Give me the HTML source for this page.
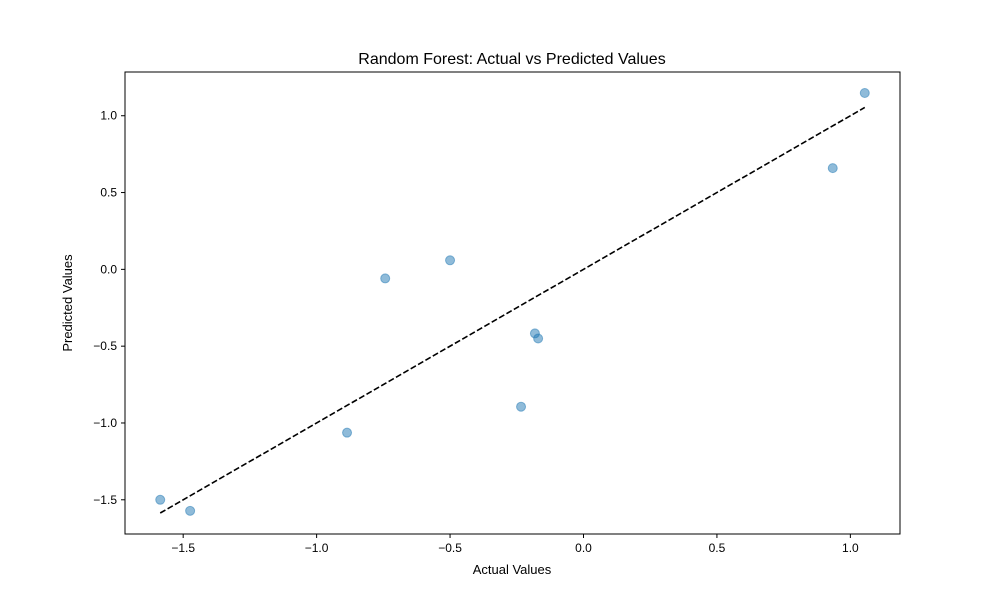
<!DOCTYPE html>
<html><head><meta charset="utf-8"><style>body{margin:0;background:#fff}svg{display:block;font-family:"Liberation Sans","DejaVu Sans",sans-serif}</style></head>
<body>
<svg id="chart" width="1000" height="600" viewBox="0 0 1000 600">
<rect width="1000" height="600" fill="#fff"/>
<text x="512" y="64" text-anchor="middle" font-size="16">Random Forest: Actual vs Predicted Values</text>
<text x="512" y="574" text-anchor="middle" font-size="13">Actual Values</text>
<text x="72" y="303" text-anchor="middle" font-size="13" transform="rotate(-90 72 303)">Predicted Values</text>
<g id="marks"></g>
<rect x="125" y="72" width="775" height="462" fill="none" stroke="#000" stroke-width="1"/>
</svg>
<script>
const actual=[1.054,0.934,-0.5,-0.743,-0.182,-0.17,-0.234,-0.886,-1.586,-1.474];
const predicted=[1.148,0.659,0.059,-0.059,-0.417,-0.45,-0.894,-1.063,-1.5,-1.572];
const xTicks=[-1.5,-1.0,-0.5,0.0,0.5,1.0];
const yTicks=[-1.5,-1.0,-0.5,0.0,0.5,1.0];
const L=125,R=900,T=72,B=534;
const mn=Math.min(...actual),mx=Math.max(...actual);
const ymn=Math.min(mn,...predicted),ymx=Math.max(mx,...predicted);
const xpad=(mx-mn)*0.05,ypad=(ymx-ymn)*0.05;
const x0=mn-xpad,x1=mx+xpad,y0=ymn-ypad,y1=ymx+ypad;
const sx=v=>L+(v-x0)/(x1-x0)*(R-L);
const sy=v=>B-(v-y0)/(y1-y0)*(B-T);
const g=document.getElementById('marks');
const NS='http://www.w3.org/2000/svg';
function mk(t,a){const e=document.createElementNS(NS,t);for(const k in a)e.setAttribute(k,a[k]);g.appendChild(e);return e;}
const fmt=v=>(v<0?'\u2212':'')+Math.abs(v).toFixed(1);
xTicks.forEach(v=>{const x=sx(v);
 const l=mk('line',{x1:x,x2:x,y1:B,y2:B+4,stroke:'#000'});
 
 
 const t=mk('text',{x:x,y:B+18,'text-anchor':'middle','font-size':'12'});t.textContent=fmt(v);
 
 });
yTicks.forEach(v=>{const y=sy(v);
 const l=mk('line',{x1:L-4,x2:L,y1:y,y2:y,stroke:'#000'});
 
 
 const t=mk('text',{x:L-8,y:y+4,'text-anchor':'end','font-size':'12'});t.textContent=fmt(v);
 
 });
actual.forEach((a,i)=>{const c=mk('circle',{cx:sx(a),cy:sy(predicted[i]),r:4.5,fill:'#1f77b4','fill-opacity':0.5,stroke:'#1f77b4','stroke-opacity':0.5});
 
 });
const d=mk('line',{x1:sx(mn),y1:sy(mn),x2:sx(mx),y2:sy(mx),stroke:'#000','stroke-width':1.6,'stroke-dasharray':'6,2.5'});


</script>
</body></html>
